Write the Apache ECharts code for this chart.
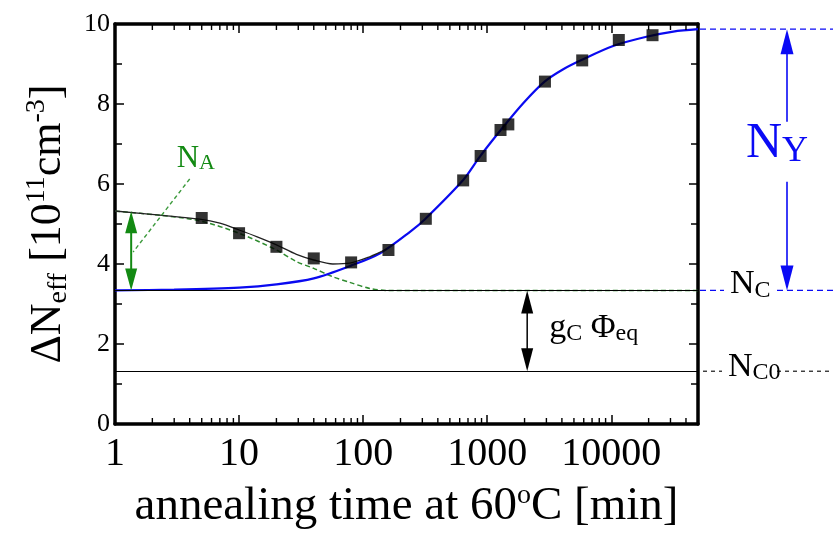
<!DOCTYPE html>
<html><head><meta charset="utf-8">
<script src="https://cdn.jsdelivr.net/npm/echarts@6/dist/echarts.min.js"></script>
<style>html,body{margin:0;padding:0;background:#fff}#c{width:833px;height:536px}</style>
</head><body><div id="c"></div>
<script>
// ---- data ----
const xTickLabels = ['1', '10', '100', '1000', '10000'];
const yTickLabels = ['0', '2', '4', '6', '8', '10'];
// measured points (annealing time [min], ΔNeff)
const pointT = [5, 10, 20, 40, 80, 160, 320, 640, 885, 1280, 1480, 2920, 5830, 11500, 21500];
const pointV = [5.15, 4.77, 4.43, 4.14, 4.04, 4.35, 5.13, 6.09, 6.70, 7.35, 7.49, 8.56, 9.09, 9.60, 9.72];
// blue curve (stable + reverse annealing)
const blueT = [1, 3, 10, 20, 40, 80, 137, 240, 315, 640, 870, 1350, 1950, 2900, 4100, 5750, 10350, 19200, 31600, 50000];
const blueV = [3.34, 3.36, 3.41, 3.49, 3.64, 3.96, 4.27, 4.81, 5.12, 6.10, 6.68, 7.43, 8.02, 8.56, 8.87, 9.10, 9.45, 9.68, 9.81, 9.87];
// green dashed curve (stable + beneficial annealing)
const greenT = [1, 2.3, 4.8, 10, 20, 29, 40, 57, 78, 113, 155, 300, 1000, 50000];
const greenV = [5.32, 5.22, 5.08, 4.77, 4.35, 4.06, 3.89, 3.68, 3.54, 3.39, 3.34, 3.34, 3.34, 3.34];
// black total curve (short times)
const totalT = [1, 2.3, 4.8, 7, 10, 14, 20, 29, 40, 57, 78, 113, 155];
const totalV = [5.325, 5.22, 5.12, 5.02, 4.85, 4.68, 4.48, 4.24, 4.10, 4.00, 4.02, 4.18, 4.37];
// reference levels
const levelNames = ['NA0', 'NC', 'NC0', 'NYtop'];
const levelValues = [5.32, 3.34, 1.32, 9.87];
// annotation anchors (time, value)
const greenArrowT = [1.35];
const blackArrowT = [2100];
const leaderT = [4.0, 1.4];
const leaderV = [6.125, 4.3];

const NA0 = levelValues[0], NC = levelValues[1], NC0 = levelValues[2], NYtop = levelValues[3];
const FONT = '"Liberation Serif","Times New Roman",serif';

// log-axis minor tick positions (2..9 of each decade)
const xMinorTicks = [];
for (let d = 0; d < 5; d++) for (let k = 2; k <= 9; k++) { const v = k * Math.pow(10, d); if (v < 50000) xMinorTicks.push(v); }

const zip = (a, b) => a.map((t, i) => [t, b[i]]);

const axisLineStyle = { color: '#000', width: 3.5 };
const tickStyle = { color: '#000', width: 1.5 };

const option = {
  animation: false,
  backgroundColor: '#fff',
  grid: { left: 115, top: 24, width: 583, height: 400, containLabel: false, outerBoundsMode: 'none' },
  xAxis: [
    {
      type: 'log', logBase: 10, min: 1, max: 50000, position: 'bottom',
      axisLine: { show: true, onZero: false, lineStyle: axisLineStyle },
      axisTick: { show: true, inside: true, length: 9, lineStyle: tickStyle },
      splitLine: { show: false },
      axisLabel: {
        show: true, margin: 10, fontSize: 40, fontFamily: FONT, color: '#000', showMaxLabel: false,
        formatter: v => { const l = Math.log10(v); const i = Math.round(l); return Math.abs(l - i) < 1e-6 && i < xTickLabels.length ? xTickLabels[i] : ''; }
      },
      name: '{m|annealing time at 60}{p|o}{m|C [min]}',
      nameLocation: 'middle', nameGap: 58,
      nameTextStyle: {
        fontFamily: FONT, color: '#000',
        rich: {
          m: { fontFamily: FONT, fontSize: 47, lineHeight: 50, color: '#000' },
          p: { fontFamily: FONT, fontSize: 28, lineHeight: 17, verticalAlign: 'top', color: '#000' }
        }
      }
    },
    {
      type: 'log', logBase: 10, min: 1, max: 50000, position: 'top',
      axisLine: { show: true, onZero: false, lineStyle: axisLineStyle },
      axisTick: { show: true, inside: true, length: 9, lineStyle: tickStyle },
      splitLine: { show: false },
      axisLabel: { show: false }
    }
  ],
  yAxis: [
    {
      type: 'value', min: 0, max: 10, interval: 2, position: 'left',
      axisLine: { show: true, onZero: false, lineStyle: axisLineStyle },
      axisTick: { show: true, inside: true, length: 9, lineStyle: tickStyle },
      minorTick: { show: true, splitNumber: 2, length: 7, lineStyle: tickStyle },
      splitLine: { show: false }, minorSplitLine: { show: false },
      axisLabel: { margin: 5, fontSize: 26, fontFamily: FONT, color: '#000', formatter: v => yTickLabels[Math.round(v / 2)] },
      name: '{m|ΔN}{s|eff}{m| [10}{p|11}{m|cm}{p|-3}{m|]}',
      nameLocation: 'middle', nameGap: 41, nameRotate: 90,
      nameTextStyle: {
        fontFamily: FONT, color: '#000',
        rich: {
          m: { fontFamily: FONT, fontSize: 44, lineHeight: 50, color: '#000' },
          s: { fontFamily: FONT, fontSize: 28, lineHeight: 15, verticalAlign: 'bottom', color: '#000' },
          p: { fontFamily: FONT, fontSize: 28, lineHeight: 23, verticalAlign: 'top', color: '#000' }
        }
      }
    },
    {
      type: 'value', min: 0, max: 10, interval: 2, position: 'right',
      axisLine: { show: true, onZero: false, lineStyle: axisLineStyle },
      axisTick: { show: true, inside: true, length: 9, lineStyle: tickStyle },
      minorTick: { show: true, splitNumber: 2, length: 7, lineStyle: tickStyle },
      splitLine: { show: false }, minorSplitLine: { show: false },
      axisLabel: { show: false }
    }
  ],
  series: [
    {
      name: 'levels', type: 'line', data: [], silent: true,
      markLine: {
        silent: true, symbol: 'none', label: { show: false }, animation: false,
        lineStyle: { color: '#000', width: 1.1, type: 'solid' },
        data: [{ yAxis: NC }, { yAxis: NC0 }]
      }
    },
    {
      name: 'N_A decay', type: 'line', data: zip(greenT, greenV), smooth: 0.3, symbol: 'none', z: 3,
      lineStyle: { color: '#2e8b2e', width: 1.5, type: [5, 3] }
    },
    {
      name: 'N_C + N_Y', type: 'line', data: zip(blueT, blueV), smooth: 0.3, symbol: 'none', z: 4,
      lineStyle: { color: '#0a0af0', width: 2.2 }
    },
    {
      name: 'total', type: 'line', data: zip(totalT, totalV), smooth: 0.3, symbol: 'none', z: 4,
      lineStyle: { color: '#222', width: 1.3 }
    },
    {
      name: 'data', type: 'scatter', data: zip(pointT, pointV), symbol: 'rect', symbolSize: 12, z: 6,
      itemStyle: { color: '#000' }
    }
  ]
};

const chart = echarts.init(document.getElementById('c'), null, { renderer: 'canvas' });
chart.setOption(option);

const P = (t, v) => chart.convertToPixel({ xAxisIndex: 0, yAxisIndex: 0 }, [t, v]);
const gridRight = P(50000, 0)[0];
const gridBottom = P(1, 0)[1], gridTop = P(1, 10)[1];
const W = 833;

function seg(x1, y1, x2, y2, color, lw, dash) {
  const st = { stroke: color, lineWidth: lw };
  if (dash) st.lineDash = dash;
  return { type: 'line', z: 60, shape: { x1, y1, x2, y2 }, style: st };
}
function vArrow(x, yA, yB, color, lw, headL, headW, gap) {
  const els = [];
  if (gap) {
    els.push(seg(x, yA + headL - 1, x, gap[0], color, lw));
    els.push(seg(x, gap[1], x, yB - headL + 1, color, lw));
  } else {
    els.push(seg(x, yA + headL - 1, x, yB - headL + 1, color, lw));
  }
  els.push({ type: 'polygon', z: 60, shape: { points: [[x, yA], [x - headW / 2, yA + headL], [x + headW / 2, yA + headL]] }, style: { fill: color } });
  els.push({ type: 'polygon', z: 60, shape: { points: [[x, yB], [x - headW / 2, yB - headL], [x + headW / 2, yB - headL]] }, style: { fill: color } });
  return els;
}
function label(x, y, text, rich, color) {
  return { type: 'text', x: x, y: y, z: 100, style: { text, rich, fill: color, textAlign: 'left', textVerticalAlign: 'middle', verticalAlign: 'middle', font: '30px ' + FONT } };
}

// minor ticks of the log axis (bottom and top), placed through the axis scale
const ticks = [];
xMinorTicks.forEach(t => { const x = P(t, 0)[0]; ticks.push(seg(x, gridBottom, x, gridBottom - 6, '#000', 1.4), seg(x, gridTop, x, gridTop + 6, '#000', 1.4)); });

const yNA = P(1, NA0)[1], yNC = P(1, NC)[1], yNC0 = P(1, NC0)[1], yTop = P(1, NYtop)[1];
const gx = P(greenArrowT[0], 0)[0];
const bx = P(blackArrowT[0], 0)[0];
const L1 = P(leaderT[0], leaderV[0]), L2 = P(leaderT[1], leaderV[1]);
const blueX = gridRight + 89;
const nyCenter = (yTop + yNC) / 2 - 16;
const green = '#138a13';
const blue = '#0a0af5';

const graphics = [].concat(
  ticks,
  vArrow(gx, yNA, yNC, green, 2, 22, 12),
  vArrow(bx, yNC, yNC0, '#000', 1.5, 23, 12),
  vArrow(blueX, yTop, yNC, blue, 1.6, 25, 13, [nyCenter - 22, nyCenter + 38]),
  [
    seg(L1[0], L1[1], L2[0], L2[1], '#3c9a3c', 1.4, [4, 3]),
    seg(gridRight + 2, yTop, W, yTop, blue, 1.3, [6, 4]),
    seg(gridRight + 2, yNC, gridRight + 26, yNC, blue, 1.3, [6, 4]),
    seg(gridRight + 79, yNC, W, yNC, blue, 1.3, [6, 4]),
    seg(gridRight + 5, yNC0, gridRight + 24, yNC0, '#000', 1.1, [4, 4]),
    seg(gridRight + 79, yNC0, W, yNC0, '#000', 1.1, [4, 4]),
    label(L1[0] - 13, L1[1] - 20.5, '{m|N}{s|A}', {
      m: { fontFamily: FONT, fontSize: 31, lineHeight: 32, fill: green, color: green },
      s: { fontFamily: FONT, fontSize: 22, lineHeight: 10, verticalAlign: 'bottom', fill: green, color: green }
    }, green),
    label(gridRight + 48, nyCenter, '{m|N}{s|Y}', {
      m: { fontFamily: FONT, fontSize: 50, lineHeight: 52, fill: blue, color: blue },
      s: { fontFamily: FONT, fontSize: 36, lineHeight: 20, verticalAlign: 'bottom', fill: blue, color: blue }
    }, blue),
    label(gridRight + 32, yNC - 6, '{m|N}{s|C}', {
      m: { fontFamily: FONT, fontSize: 34, lineHeight: 36, fill: '#000', color: '#000' },
      s: { fontFamily: FONT, fontSize: 24, lineHeight: 16, verticalAlign: 'bottom', fill: '#000', color: '#000' }
    }, '#000'),
    label(gridRight + 30, yNC0 - 4, '{m|N}{s|C0}', {
      m: { fontFamily: FONT, fontSize: 34, lineHeight: 36, fill: '#000', color: '#000' },
      s: { fontFamily: FONT, fontSize: 24, lineHeight: 19, verticalAlign: 'bottom', fill: '#000', color: '#000' }
    }, '#000'),
    label(bx + 22, (yNC + yNC0) / 2 - 3, '{m|g}{s|C}{m| Φ}{s|eq}', {
      m: { fontFamily: FONT, fontSize: 34, lineHeight: 36, fill: '#000', color: '#000' },
      s: { fontFamily: FONT, fontSize: 24, lineHeight: 23, verticalAlign: 'bottom', fill: '#000', color: '#000' }
    }, '#000')
  ]
);

chart.setOption({ graphic: graphics });
</script>
</body></html>
